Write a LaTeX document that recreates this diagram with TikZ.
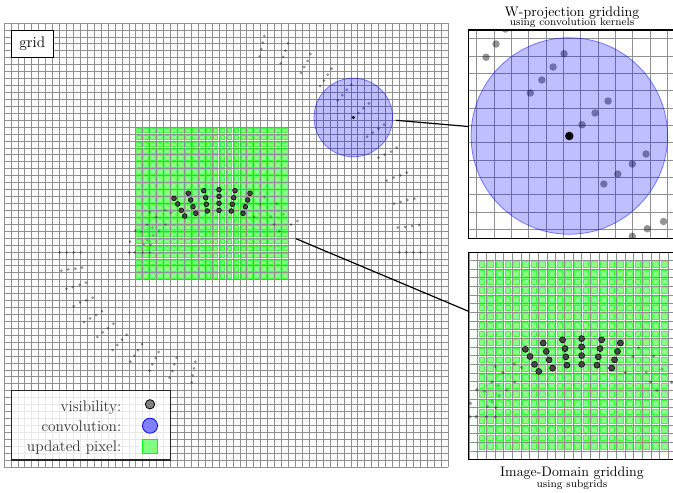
\documentclass[tikz,border=0pt]{standalone}
\usetikzlibrary{calc}
\begin{document}
\begin{tikzpicture}[x=0.75pt,y=-0.75pt,
  gridline/.style={draw=black!44, line width=0.5pt},
  vis/.style={fill=black, fill opacity=0.42},
  visdark/.style={fill=black!72, draw=black, line width=0.4pt},
  pix/.style={draw=green, fill=green, fill opacity=0.45, draw opacity=0.6, line width=0.8pt},
  conv/.style={fill=blue, fill opacity=0.25, draw=blue, draw opacity=0.5, line width=0.55pt},
  panel/.style={draw=black, line width=0.8pt},
  conn/.style={draw=black, line width=0.9pt},
  lbl/.style={font=\fontsize{11.5}{13}\selectfont},
  ttl/.style={font=\fontsize{10.4}{12}\selectfont, anchor=base, inner sep=0pt},
  subttl/.style={font=\fontsize{8}{9}\selectfont, anchor=base, inner sep=0pt}]
\useasboundingbox (0,0) rectangle (673,492);
\def\cs{6.9375}
\newcommand\myscene{%
  \foreach \i in {0,...,64}{
    \draw[gridline] ({4+\i*\cs},23) -- ({4+\i*\cs},467);
    \draw[gridline] (4,{23+\i*\cs}) -- (448,{23+\i*\cs});
  }
  % grey visibilities
  \foreach \x/\y in {264.3/36,262.7/42.7,261.3/49.3,259.7/56.3,
    288/43.3,285.3/50.7,283/57,280.7/63.3,
    310.3/54,307.7/61,304/67,301/73,
    331.7/68.7,327.7/74.7,324/80.7,320/86,
    351.2/84.6,346.8/89.9,342.3/95.1,337.7/100.3,
    368.8/103.5,363.6/108.3,358.4/113,
    384/124.7,378.5/128.7,372.7/132.7,367.1/136.7,
    396.7/147.7,391/151.7,384.5/154.6,378.5/157.6,
    386.7/180.7,393.7/177.7,400.3/175.3,406.7/172.7,
    394/203.7,400.7/202,407.3/200,414.3/198.7,
    397.7/227.7,405/227,412/226,419/225,
    399.3/252.3,406.3/252.3,413.3/252.3,420.3/252.3,
    59.7/252.3,66.7/252.3,73.7/252.3,80.7/252.3,
    61.3/270.7,68.3/269.3,75.3/268.7,82/267.7,
    66.3/288.7,72.7/287,79.7/284.7,86/282.7,
    73.7/306.3,80/302.3,86.3/300.3,92.7/297.7,
    84/322,90/318.3,96/315,102/311,
    97.3/337,102.7/332.3,108/328,113.3/323.7,
    112.7/350,117.3/345,122/339.7,126.7/334.7,
    130.3/361.7,134.3/355.7,138/350,142/344,
    149.7/370.7,152.3/364.3,155.7/358,158.7/352,
    169.7/377.7,172.3/371,174.3/364.3,176.7/357.7,
    191.7/382.3,192.7/375.3,194/368.3,195.3/361.7,
    150/212,165/210,147.3/224.6,165.3/224.6,152.5/227.5,159/230.7,
    135.3/230.7,141.3/232.1,153.1/235.3,147.5/240.1,150.5/244.9,143.7/244.1,
    130/241.5,129.5/252.3,134.7/252.3,142.7/252.3,150/252.3,156/217,171/212.7,
    260/204.3,264.5/197.4,276.5/203.8,270.7/216.3,253.9/216.9,274.1/224.6,
    279.3/231.3,283.3/214.3,291/224.7,297.3/221}
    {\fill[vis] (\x,\y) circle[radius=1.5];}
  % updated pixels of the subgrid
  \foreach \i in {19,...,40}{\foreach \j in {15,...,36}{
    \filldraw[pix] ({4+(\i+0.16)*\cs},{23+(\j+0.16)*\cs}) rectangle ({4+(\i+0.84)*\cs},{23+(\j+0.84)*\cs});
  }}
  % visibilities gridded onto the subgrid
  \foreach \x/\y in {174/198.3,177.7/204,181.3/210.3,184.7/216,
    188.3/193.3,190.7/200,193/206.7,195.7/213.3,
    203.7/190.7,205.7/197.7,206.3/204.3,207.3/211,
    219/189.7,219/196.3,219/203.3,219/210.3,
    235/190.7,233.7/197.7,232.3/204.3,231.3/211,
    250/193.3,247.7/200,245.3/206.7,243/213.3}
    {\filldraw[visdark] (\x,\y) circle[radius=2.4];}
  % convolution kernel
  \filldraw[conv] (353.3,117.5) circle[radius=39.3];
  \fill[black] (353.3,117.5) circle[radius=1.7];
}
% main grid
\myscene
% W-projection panel
\begin{scope}
  \clip (468.3,30) rectangle (676,238.3);
  \begin{scope}[shift={(569.3,136)}, scale=2.5, shift={(-353.3,-117.5)}]
    \myscene
  \end{scope}
\end{scope}
\draw[panel] (468.3,30) rectangle (676,238.3);
% Image-domain panel
\begin{scope}
  \clip (468.3,252.3) rectangle (677,459.3);
  \begin{scope}[shift={(573,355.7)}, scale=1.25, shift={(-212.1,-203.4)}]
    \myscene
  \end{scope}
\end{scope}
\draw[panel] (468.3,252.3) rectangle (677,459.3);
% connectors
\coordinate (c1a) at (396,120.3);
\coordinate (c1b) at (468.3,126.5);
\coordinate (c2a) at (296,238.7);
\coordinate (c2b) at (468.3,311.2);
\draw[conn] (c1a) -- (c1b);
\draw[conn] (c2a) -- (c2b);
% titles
\node[ttl] (wt) at (572,16.2) {W-projection gridding};
\node[subttl] (ws) at (572,26) {using convolution kernels};
\node[ttl] (it) at (572,476.8) {Image-Domain gridding};
\node[subttl] (is) at (572,487) {using subgrids};
% grid label
\node[draw, line width=0.8pt, fill=white, lbl, minimum width=31.5pt, minimum height=20.25pt, inner sep=0pt] (gl) at (32.3,44.2) {grid};
% legend
\node[draw=black!85, line width=0.8pt, fill=white, fill opacity=0.8, minimum width=119.25pt, minimum height=52pt, inner sep=0pt] (leg) at (91.2,425.35) {};
\node[lbl, text=black!80, anchor=base east, inner sep=0pt] (lt1) at (121.5,411.5) {visibility:};
\node[lbl, text=black!80, anchor=base east, inner sep=0pt] (lt2) at (121.5,431.5) {convolution:};
\node[lbl, text=black!80, anchor=base east, inner sep=0pt] (lt3) at (121.5,451) {updated pixel:};
\node[circle, draw=black, fill=black!50, line width=0.6pt, minimum size=7pt, inner sep=0pt] (ls1) at (150,404.3) {};
\node[circle, draw=blue, fill=blue!50, line width=0.6pt, minimum size=11.3pt, inner sep=0pt] (ls2) at (150,425.7) {};
\node[draw=green, fill=green!50, line width=0.6pt, minimum size=10.8pt, inner sep=0pt] (ls3) at (150,446.3) {};
\end{tikzpicture}
\end{document}
